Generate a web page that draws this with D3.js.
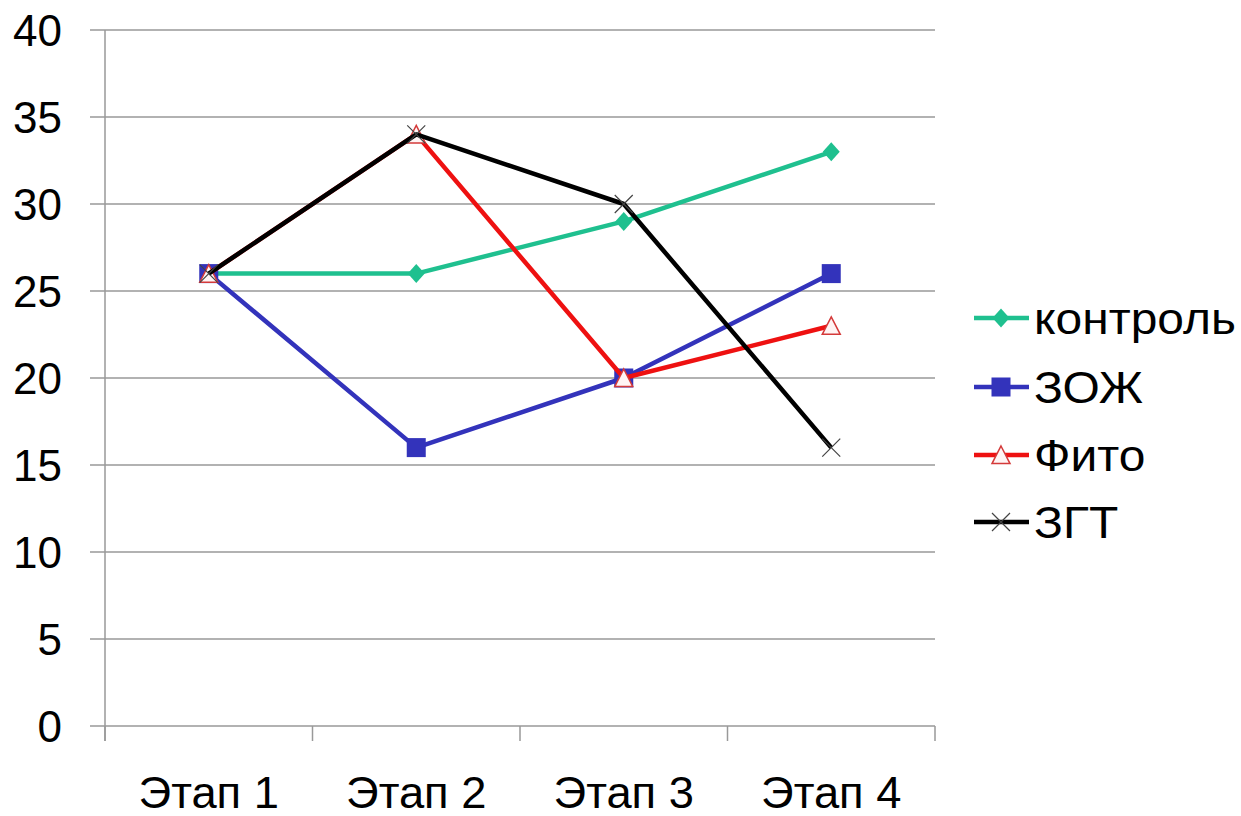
<!DOCTYPE html>
<html><head><meta charset="utf-8">
<script src="https://cdn.jsdelivr.net/npm/d3@7"></script>
<style>body{margin:0;background:#fff}svg{display:block}</style>
</head><body>
<svg id="c" width="1241" height="816"></svg>
<script>
const categories = ["Этап 1","Этап 2","Этап 3","Этап 4"];
const seriesNames = ["контроль","ЗОЖ","Фито","ЗГТ"];
const kontrol = [26,26,29,33];
const zozh = [26,16,20,26];
const fito = [26,34,20,23];
const zgt = [26,34,30,16];
const yTicks = [0,5,10,15,20,25,30,35,40];
const colors = ["#1fc08f","#3333bb","#ee1111","#000000"];
const markers = ["diamond","square","triangle","x"];
const values = [kontrol, zozh, fito, zgt];

(function(){
const svg = d3.select("#c");
const font = "'Liberation Sans', Arial, sans-serif";
const pLeft = 105, pRight = 935, pTop = 30, pBottom = 726;
const x = d3.scaleBand().domain(categories).range([pLeft, pRight]);
const y = d3.scaleLinear().domain([0,40]).range([pBottom, pTop]);

svg.append("g").selectAll("line").data(yTicks).join("line")
  .attr("x1", pLeft-15).attr("x2", pRight).attr("y1", d=>y(d)).attr("y2", d=>y(d))
  .attr("stroke","#999").attr("stroke-width",1.5);
svg.append("line").attr("x1",pLeft).attr("x2",pLeft).attr("y1",pTop).attr("y2",pBottom+15)
  .attr("stroke","#999").attr("stroke-width",1.5);
const xt = categories.map(c=>x(c)).concat([pRight]);
svg.append("g").selectAll("line").data(xt).join("line")
  .attr("x1",d=>d).attr("x2",d=>d).attr("y1",pBottom).attr("y2",pBottom+15)
  .attr("stroke","#999").attr("stroke-width",1.5);
svg.append("g").selectAll("text").data(yTicks).join("text")
  .attr("x", 62).attr("y", d=>y(d)).attr("dy","0.36em")
  .attr("text-anchor","end").attr("font-family",font).attr("font-size",44).attr("fill","#000")
  .text(d=>d);
svg.append("g").selectAll("text").data(categories).join("text")
  .attr("transform", d=>`translate(${x(d)+x.bandwidth()/2},808) scale(1.03,1)`)
  .attr("text-anchor","middle").attr("font-family",font).attr("font-size",44).attr("fill","#000")
  .text(d=>d);

function drawMarker(g, type, cx, cy, color){
  if(type==="diamond"){
    const w=8.5, h=9.5;
    g.append("path").attr("d",`M${cx},${cy-h}L${cx+w},${cy}L${cx},${cy+h}L${cx-w},${cy}Z`).attr("fill",color);
  } else if(type==="square"){
    const s=9.5;
    g.append("rect").attr("x",cx-s).attr("y",cy-s).attr("width",2*s).attr("height",2*s).attr("fill",color);
  } else if(type==="triangle"){
    const s=9;
    g.append("path").attr("d",`M${cx},${cy-s}L${cx+s},${cy+s*0.95}L${cx-s},${cy+s*0.95}Z`)
      .attr("fill","#fff4f4").attr("stroke","#d43a3a").attr("stroke-width",1.5);
  } else {
    const s=9;
    g.append("path").attr("d",`M${cx-s},${cy-s}L${cx+s},${cy+s}M${cx-s},${cy+s}L${cx+s},${cy-s}`)
      .attr("stroke","#444").attr("stroke-width",1.2).attr("fill","none");
  }
}

const line = d3.line().x((d,i)=>x(categories[i])+x.bandwidth()/2).y(d=>y(d));
values.forEach((vals,si)=>{
  const g = svg.append("g");
  g.append("path").attr("d", line(vals)).attr("fill","none")
    .attr("stroke",colors[si]).attr("stroke-width",4.5).attr("stroke-linejoin","round");
  vals.forEach((v,i)=>drawMarker(g, markers[si], x(categories[i])+x.bandwidth()/2, y(v), colors[si]));
});

const legY = [318,387,455,522];
seriesNames.forEach((n,i)=>{
  const g = svg.append("g");
  g.append("line").attr("x1",974).attr("x2",1029).attr("y1",legY[i]).attr("y2",legY[i])
    .attr("stroke",colors[i]).attr("stroke-width",4.5);
  drawMarker(g, markers[i], 1001, legY[i], colors[i]);
  g.append("text").attr("transform",`translate(1034,${legY[i]}) scale(1.09,1)`).attr("dy","0.36em")
    .attr("font-family",font).attr("font-size",44).attr("fill","#000").text(n);
});
})();
</script>
</body></html>
